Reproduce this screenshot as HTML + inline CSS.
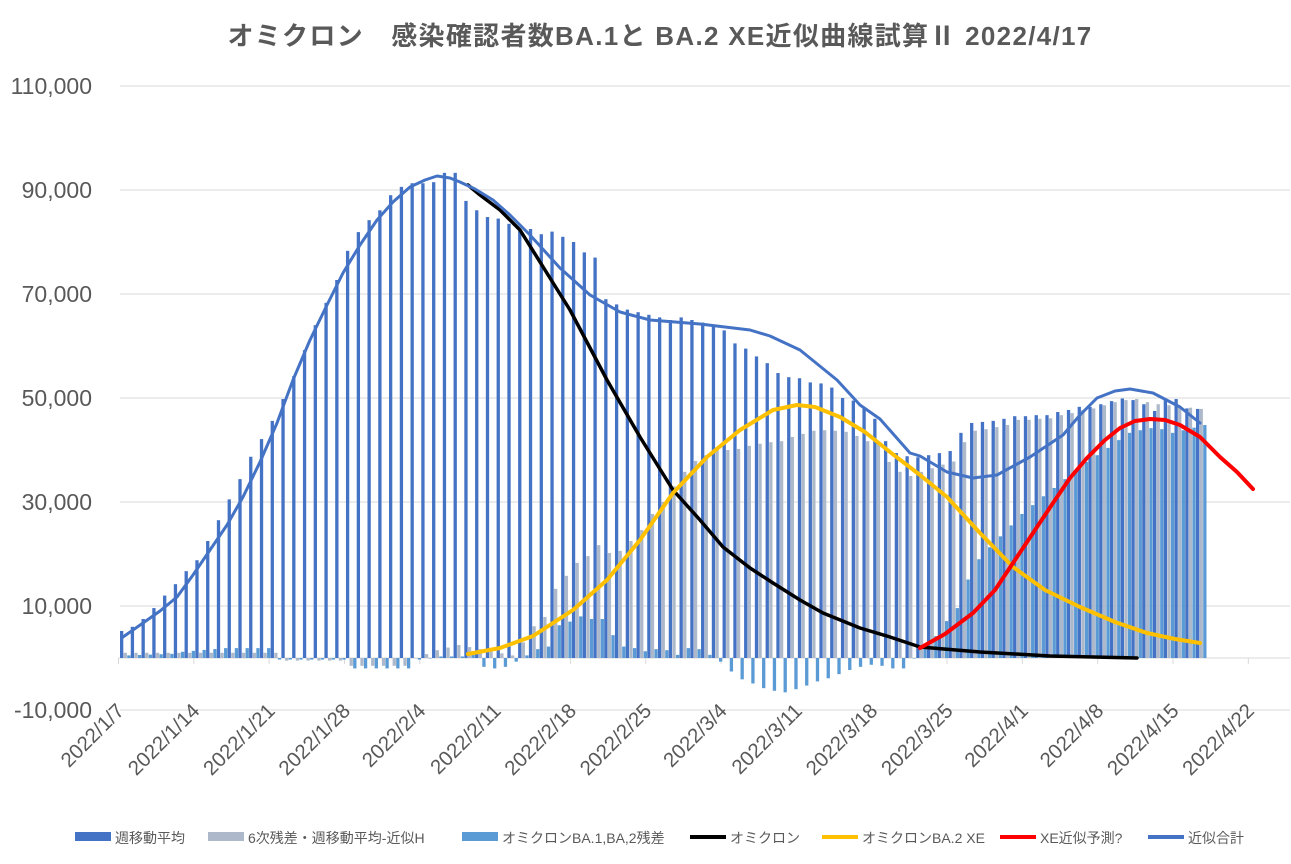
<!DOCTYPE html>
<html><head><meta charset="utf-8"><style>
body{margin:0;background:#fff;}
svg text{font-family:"Liberation Sans","Noto Sans CJK JP",sans-serif;fill:#595959;}
</style></head><body>
<svg id="c" width="1291" height="859" xmlns="http://www.w3.org/2000/svg"></svg>
<script>
const s=document.getElementById('c');
let h='';
const Y=v=>658-v*0.0052;
const X0=118.5,DX=10.76;
h+='<text x="660" y="45" text-anchor="middle" font-size="26" font-weight="bold" letter-spacing="1.3" style="fill:#595959">オミクロン　感染確認者数BA.1と BA.2  XE近似曲線試算Ⅱ  2022/4/17</text>';
[110000,90000,70000,50000,30000,10000,-10000].forEach(v=>{
 h+=`<line x1="120" x2="1290" y1="${Y(v)}" y2="${Y(v)}" stroke="#d9d9d9" stroke-width="1"/>`;
 h+=`<text x="92" y="${Y(v)+8}" text-anchor="end" font-size="23">${v.toLocaleString('en-US')}</text>`;
});
h+=`<line x1="118" x2="1290" y1="658" y2="658" stroke="#d9d9d9"/>`;
const dates=['1/7','1/14','1/21','1/28','2/4','2/11','2/18','2/25','3/4','3/11','3/18','3/25','4/1','4/8','4/15','4/22'];
dates.forEach((d,i)=>{const x=X0+i*7*DX;
 h+=`<line x1="${x}" x2="${x}" y1="658" y2="664" stroke="#d9d9d9"/>`;
 h+=`<text transform="translate(${x+7},${712}) rotate(-45)" text-anchor="end" font-size="20.5">2022${'/'+d}</text>`;
});
function interp(kp,n){const a=[];for(let d=0;d<=n;d++){let i=0;while(i<kp.length-2&&kp[i+1][0]<d)i++;const[p,q]=[kp[i],kp[i+1]];a.push(d<=p[0]?p[1]:d>=q[0]?q[1]:p[1]+(q[1]-p[1])*(d-p[0])/(q[0]-p[0]));}return a;}
const blue=[5200,6000,7500,9600,12000,14200,16700,18800,22500,26500,30500,34400,38700,42100,45600,49800,54200,59200,64000,68300,72700,78300,81900,84200,86100,89000,90600,91300,91300,91500,93300,93300,87900,86100,84800,
84500,83500,82500,82500,81500,82000,81000,80000,78000,77000,69000,68000,67000,66500,66000,65500,65000,65500,65000,64500,64000,63000,60500,59500,58000,56700,54800,54000,53800,53000,52800,52000,50000,49500,48000,46000,
41700,39400,38800,38600,39000,39400,39800,43300,45200,45400,45600,46000,46500,46500,46700,46700,47300,47700,48300,48300,48800,49400,49900,49600,48800,47500,49800,49800,48000,47900];
const gray=interp([[0,1000],[14,1000],[15,-500],[20,-500],[21,-1500],[26,-1500],[27,0],[29,1500],[31,2500],[36,500],[37,3000],[38,6100],[39,7900],[40,13300],[41,15800],[42,18300],[43,19600],[44,21700],[45,20200],[46,20600],[47,22500],[48,24600],[49,27700],[50,30000],[51,33000],[52,35800],[53,37900],[54,39000],[55,40200],[56,40000],[57,40200],[58,40800],[59,41200],[60,41500],[61,41700],[62,42500],[63,43100],[64,43700],[65,43800],[66,43700],[67,43500],[68,42700],[69,41700],[70,41300],[71,37700],[72,35800],[73,35000],[74,35800],[75,36500],[76,37200],[77,37800],[78,41500],[79,43700],[80,44000],[81,44400],[82,44800],[83,45800],[84,45800],[85,46000],[86,46100],[87,46700],[88,47100],[89,47700],[90,48000],[91,48600],[92,49200],[93,49600],[94,49800],[95,49200],[96,48800],[97,48600],[100,47900]],100);
const lb=interp([[0,500],[4,800],[5,1200],[9,1900],[13,1900],[14,-300],[20,-300],[21,-2000],[26,-2000],[27,-300],[29,300],[31,300],[32,1300],[33,-1700],[34,-2000],[35,-1700],[36,-700],[37,500],[38,1700],[39,2200],[40,6300],[41,7000],[42,8000],[43,7500],[44,7500],[45,4400],[46,2200],[47,1900],[48,1300],[49,1700],[50,1500],[51,600],[52,1900],[53,1700],[54,600],[55,-700],[56,-2600],[57,-4100],[58,-4900],[59,-5800],[60,-6300],[61,-6600],[62,-6000],[63,-5300],[64,-4500],[65,-3900],[66,-3100],[67,-2300],[68,-1700],[69,-1300],[70,-1500],[71,-2000],[72,-2000],[73,0],[74,2000],[75,4200],[76,7100],[77,9600],[78,15100],[79,19000],[80,21300],[81,23400],[82,25500],[83,27700],[84,29400],[85,31100],[86,32700],[87,34400],[88,36100],[89,37700],[90,39000],[91,40400],[92,41900],[93,43300],[94,43800],[95,44200],[96,44000],[97,43300],[100,44800]],100);
function bar(x,v,c){const y=Y(Math.max(v,0)),hh=Math.abs(v)*0.0052;h+=`<rect x="${x.toFixed(2)}" y="${y.toFixed(2)}" width="3.3" height="${Math.max(hh,0.5).toFixed(2)}" fill="${c}"/>`;}
for(let d=0;d<=100;d++){const x=120+DX*d;bar(x,blue[d],'#4472C4');bar(x+3.6,gray[d],'#ADB9CA');bar(x+7.2,lb[d],'#5B9BD5');}
function pl(pts,c,w){h+=`<polyline points="${pts.map(p=>p.join(',')).join(' ')}" fill="none" stroke="${c}" stroke-width="${w}" stroke-linejoin="round" stroke-linecap="round"/>`;}
pl([[468,185],[480,195],[500,210],[520,230],[540,262],[570,310],[607,380],[640,437],[673,490],[700,520],[723,547],[750,568],[773,583],[800,600],[823,613],[860,628],[890,637],[920,647],[980,652],[1050,656],[1137,658]],'#000',3.5);
pl([[468,654],[500,648],[533,636],[573,610],[607,580],[640,540],[673,493],[707,457],[740,430],[773,410],[797,405],[815,407],[840,417],[865,432],[890,452],[920,475],[947,497],[980,533],[1013,567],[1045,590],[1080,607],[1115,622],[1147,633],[1175,639],[1200,643]],'#FFC000',4);
pl([[920,648],[945,634],[973,613],[995,590],[1013,563],[1033,533],[1053,503],[1070,478],[1087,458],[1105,440],[1120,428],[1135,421],[1150,419],[1165,420],[1180,425],[1200,437],[1220,457],[1237,472],[1253,489]],'#FF0000',4);
pl([[123,637],[143,623],[160,611],[177,597],[193,575],[210,550],[227,525],[243,497],[260,462],[277,423],[293,380],[310,340],[327,305],[343,273],[360,245],[377,220],[393,202],[410,187],[425,180],[437,176],[450,178],[460,182],[475,189],[493,200],[510,215],[530,235],[560,268],[590,295],[620,312],[650,320],[700,324],[750,330],[770,336],[800,350],[837,380],[860,405],[880,419],[895,436],[910,453],[920,456],[947,472],[973,478],[997,475],[1030,457],[1063,435],[1080,415],[1097,398],[1115,391],[1130,389],[1153,393],[1180,407],[1200,423]],'#4472C4',3);
const L=[['週移動平均','#4472C4','b',75],['6次残差・週移動平均-近似H','#ADB9CA','b',208],['オミクロンBA.1,BA,2残差','#5B9BD5','b',462],['オミクロン','#000','l',690],['オミクロンBA.2 XE','#FFC000','l',822],['XE近似予測?','#FF0000','l',1000],['近似合計','#4472C4','l',1148]];
L.forEach(([t,c,k,x])=>{
 if(k=='b')h+=`<rect x="${x}" y="832" width="36" height="9" fill="${c}"/>`;
 else h+=`<rect x="${x}" y="835" width="36" height="4" fill="${c}"/>`;
 h+=`<text x="${x+40}" y="843" font-size="14">${t}</text>`;
});
s.innerHTML=h;
</script>
</body></html>
